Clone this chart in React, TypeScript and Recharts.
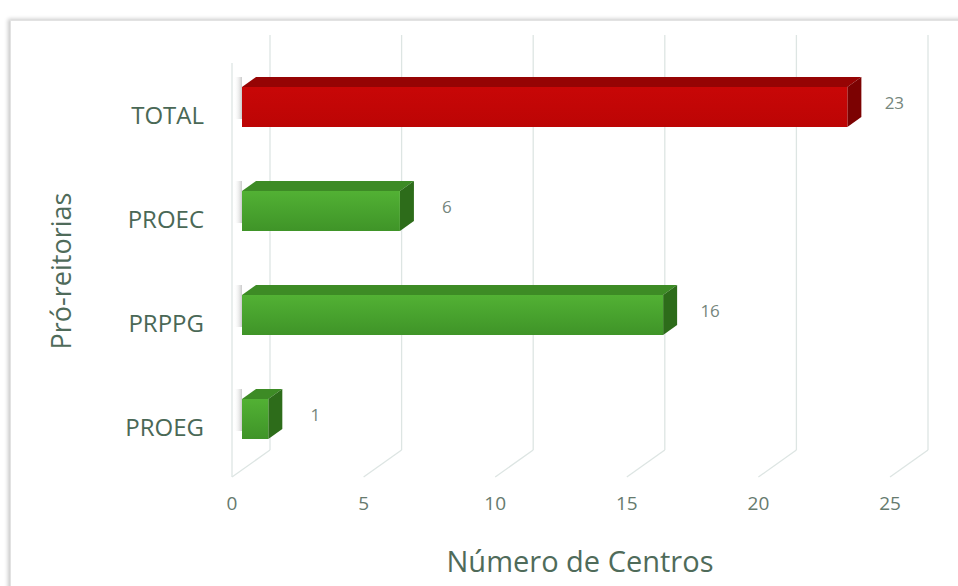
import { BarChart, Bar, XAxis, YAxis, CartesianGrid, LabelList } from "recharts";

/* ------------------------------------------------------------------ */
/* Data */
/* ------------------------------------------------------------------ */

const categories: string[] = ["TOTAL", "PROEC", "PRPPG", "PROEG"];
const centros: number[] = [23, 6, 16, 1];
const xTicks: number[] = [0, 5, 10, 15, 20, 25];

const data = categories.map((name, i) => ({ name, value: centros[i] }));

/* ------------------------------------------------------------------ */
/* 3D look */
/* ------------------------------------------------------------------ */

const FONT = "'Open Sans', 'Noto Sans', sans-serif";
const WALL_DX = 38;
const WALL_DY = 28;
const BAR_SHIFT_X = 10;
const BAR_SHIFT_Y = 8;
const DEPTH_DX = 14;
const DEPTH_DY = 10;

const palette = {
  red: { front: "url(#redFront)", top: "#960404", side: "#7c0202" },
  green: { front: "url(#greenFront)", top: "#3d8b25", side: "#2d6c1a" },
};

const GridLine = (props: any) => {
  const { x1, y1, y2, index } = props;
  const stroke = "#dde5e3";
  return (
    <g key={`g-${index}`}>
      <line x1={x1 + WALL_DX} y1={y1 - WALL_DY} x2={x1 + WALL_DX} y2={y2 - WALL_DY - 1} stroke={stroke} strokeWidth={1.3} />
      <line x1={x1} y1={y2 - 2} x2={x1 + WALL_DX} y2={y2 - WALL_DY - 1} stroke={stroke} strokeWidth={1.3} />
      {index === 0 && (
        <line x1={x1} y1={y1} x2={x1} y2={y2 - 2} stroke={stroke} strokeWidth={1.3} />
      )}
    </g>
  );
};

const Bar3D = (props: any) => {
  const { x, y, width, height, payload } = props;
  const c = payload.name === "TOTAL" ? palette.red : palette.green;
  const fx = x + BAR_SHIFT_X;
  const fy = y - BAR_SHIFT_Y;
  const w = width;
  const h = height;
  const top = `${fx},${fy} ${fx + DEPTH_DX},${fy - DEPTH_DY} ${fx + w + DEPTH_DX},${fy - DEPTH_DY} ${fx + w},${fy}`;
  const side = `${fx + w},${fy} ${fx + w + DEPTH_DX},${fy - DEPTH_DY} ${fx + w + DEPTH_DX},${fy + h - DEPTH_DY} ${fx + w},${fy + h}`;
  return (
    <g>
      <rect x={fx - 8} y={fy - DEPTH_DY} width={8} height={h + 2} fill="url(#wallShadow)" />
      <polygon points={top} fill={c.top} />
      <polygon points={side} fill={c.side} />
      <rect x={fx} y={fy} width={w} height={h} fill={c.front} />
    </g>
  );
};

const ValueLabel = (props: any) => {
  const { x, y, width, height, value } = props;
  return (
    <text
      x={x + BAR_SHIFT_X + width + DEPTH_DX + 33}
      y={y + height / 2 - 13}
      textAnchor="middle"
      dominantBaseline="central"
      fill="#75867c"
      fontSize={17}
      fontFamily={FONT}
    >
      {value}
    </text>
  );
};

const YTitle = (props: any) => {
  const { viewBox } = props;
  const cx = viewBox.x + 48;
  const cy = viewBox.y + viewBox.height / 2;
  return (
    <text
      x={cx}
      y={cy}
      transform={`rotate(-90 ${cx} ${cy})`}
      textAnchor="middle"
      dominantBaseline="central"
      fill="#4f6b5a"
      fontSize={27}
      fontFamily={FONT}
    >
      Pró-reitorias
    </text>
  );
};

const XTitle = (props: any) => {
  const { viewBox } = props;
  const cx = viewBox.x + viewBox.width / 2 + 19;
  const cy = viewBox.y + 81;
  return (
    <text
      x={cx}
      y={cy}
      textAnchor="middle"
      dominantBaseline="central"
      fill="#4f6b5a"
      fontSize={29}
      fontFamily={FONT}
    >
      Número de Centros
    </text>
  );
};

export default function App() {
  return (
    <div style={{ position: "fixed", left: 0, top: 0, width: 958, height: 586, background: "#fff", overflow: "hidden" }}>
      <div
        style={{
          position: "absolute",
          left: 10,
          top: 20,
          width: 960,
          height: 580,
          border: "1px solid #e2e2e2",
          boxShadow: "-2px -1px 4px rgba(0,0,0,0.22)",
        }}
      />
      <div style={{ position: "absolute", left: 0, top: 0 }}>
        <BarChart
          width={958}
          height={586}
          data={data}
          layout="vertical"
          margin={{ top: 63, right: 68, left: 12, bottom: 77 }}
        >
          <defs>
            <linearGradient id="greenFront" x1="0" y1="0" x2="0" y2="1">
              <stop offset="0%" stopColor="#52b134" />
              <stop offset="100%" stopColor="#3f9428" />
            </linearGradient>
            <linearGradient id="redFront" x1="0" y1="0" x2="0" y2="1">
              <stop offset="0%" stopColor="#c80707" />
              <stop offset="100%" stopColor="#bc0505" />
            </linearGradient>
            <linearGradient id="wallShadow" x1="0" y1="0" x2="1" y2="0">
              <stop offset="0%" stopColor="#ffffff" stopOpacity={0} />
              <stop offset="100%" stopColor="#a0a0a0" stopOpacity={0.55} />
            </linearGradient>
          </defs>
          <CartesianGrid horizontal={false} vertical={GridLine} />
          <XAxis
            type="number"
            domain={[0, 25]}
            ticks={xTicks}
            axisLine={false}
            tickLine={false}
            tickMargin={12}
            height={30}
            tick={{ fill: "#667a6e", fontSize: 19, fontFamily: FONT }}
            label={{ content: XTitle }}
          />
          <YAxis
            type="category"
            dataKey="name"
            width={220}
            axisLine={false}
            tickLine={false}
            tickMargin={22}
            tick={{ fill: "#4a6856", fontSize: 24, fontFamily: FONT }}
            label={{ content: YTitle }}
          />
          <Bar dataKey="value" barSize={40} shape={Bar3D} isAnimationActive={false}>
            <LabelList dataKey="value" content={ValueLabel} />
          </Bar>
        </BarChart>
      </div>
    </div>
  );
}
